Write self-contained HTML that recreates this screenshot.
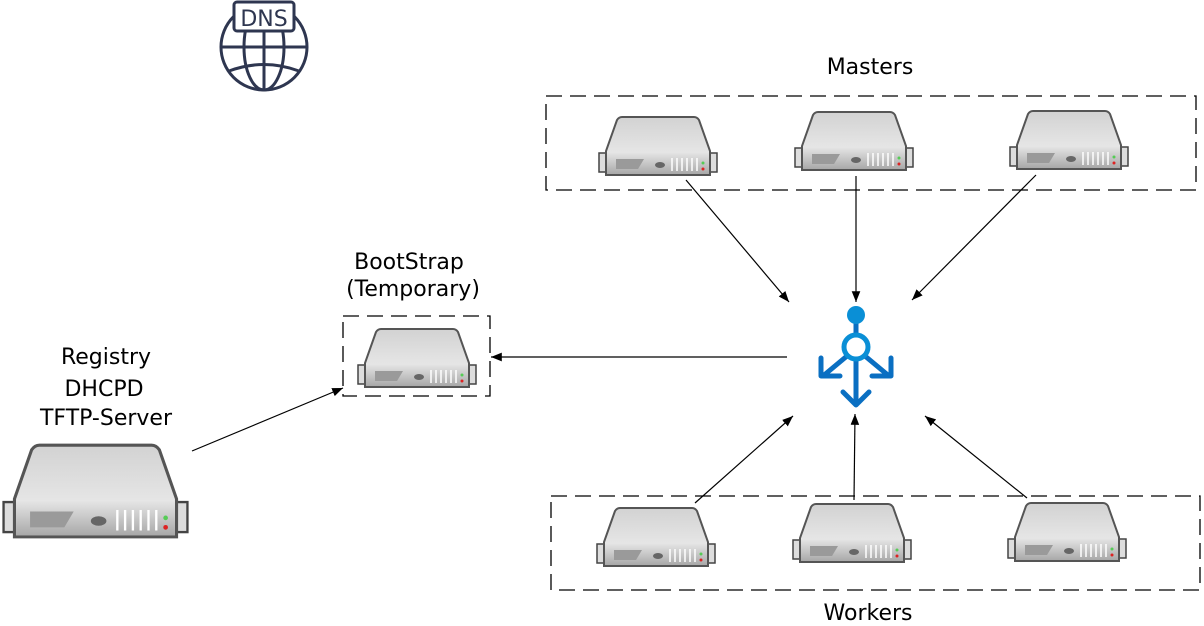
<!DOCTYPE html>
<html><head><meta charset="utf-8"><style>
html,body{margin:0;padding:0;background:#fff;width:1204px;height:626px;overflow:hidden}
</style></head><body>
<svg width="1204" height="626" viewBox="0 0 1204 626" xmlns="http://www.w3.org/2000/svg">
<defs>
<linearGradient id="tg" x1="0" y1="0" x2="0" y2="1"><stop offset="0" stop-color="#d2d2d2"/><stop offset="1" stop-color="#f2f2f2"/></linearGradient>
<linearGradient id="fg" x1="0" y1="0" x2="0" y2="1"><stop offset="0" stop-color="#e6e6e6"/><stop offset="1" stop-color="#a9a9a9"/></linearGradient>
<symbol id="srv" viewBox="0 0 120 62" preserveAspectRatio="none">
<rect x="1" y="38" width="9" height="19" fill="#ddd" stroke="#444" stroke-width="1.5"/>
<rect x="110" y="38" width="9" height="19" fill="#ddd" stroke="#444" stroke-width="1.5"/>
<path d="M24 2 H96 Q99 2 101 5 L112 36 V60 H8 V36 L19 5 Q21 2 24 2Z" fill="url(#tg)" stroke="#555" stroke-width="2"/>
<rect x="9" y="37" width="102" height="22" fill="url(#fg)"/>
<path d="M18 44 H46 L40 54 H18Z" fill="#9a9a9a"/>
<ellipse cx="62" cy="50" rx="5" ry="3" fill="#666"/>
<g stroke="#fff" stroke-width="1.5"><line x1="74" y1="43" x2="74" y2="56"/><line x1="79" y1="43" x2="79" y2="56"/><line x1="84" y1="43" x2="84" y2="56"/><line x1="89" y1="43" x2="89" y2="56"/><line x1="94" y1="43" x2="94" y2="56"/><line x1="99" y1="43" x2="99" y2="56"/></g>
<circle cx="105" cy="48" r="1.5" fill="#5c5"/><circle cx="105" cy="54" r="1.5" fill="#d22"/>
</symbol>
<marker id="ar" viewBox="0 0 10 10" refX="10" refY="5" markerWidth="9" markerHeight="9" orient="auto"><path d="M0 1 L10 5 L0 9Z" fill="#000"/></marker>
</defs>

<g fill="none" stroke="#000" stroke-dasharray="16 8" stroke-width="1.3">
<rect x="546" y="96" width="650" height="94"/>
<rect x="551" y="496" width="649" height="94"/>
<rect x="343" y="316" width="147" height="80"/>
</g>

<use href="#srv" x="598" y="115" width="120" height="62"/>
<use href="#srv" x="794" y="110" width="120" height="62"/>
<use href="#srv" x="1009" y="109" width="120" height="62"/>
<use href="#srv" x="357" y="327" width="120" height="62"/>
<use href="#srv" x="596" y="506" width="120" height="62"/>
<use href="#srv" x="792" y="502" width="120" height="62"/>
<use href="#srv" x="1007" y="501" width="120" height="62"/>
<use href="#srv" x="2" y="442" width="187" height="98"/>

<g stroke="#000" stroke-width="1.2" marker-end="url(#ar)">
<line x1="686" y1="180" x2="789" y2="302"/>
<line x1="856" y1="176" x2="856" y2="302"/>
<line x1="1036" y1="175" x2="912" y2="300"/>
<line x1="787" y1="357" x2="491" y2="357"/>
<line x1="695" y1="503" x2="793" y2="416"/>
<line x1="854" y1="500" x2="855" y2="414"/>
<line x1="1027" y1="498" x2="925" y2="416"/>
<line x1="192" y1="451" x2="343" y2="388"/>
</g>

<g fill="none" stroke="#0a6fc2" stroke-width="5" stroke-linecap="round" stroke-linejoin="round">
<line x1="856" y1="322" x2="856" y2="404"/>
<polyline points="843,392 856,405 869,392"/>
<line x1="847" y1="356" x2="823" y2="376"/>
<polyline points="821,358 821,376 840,376"/>
<line x1="865" y1="356" x2="889" y2="376"/>
<polyline points="891,358 891,376 872,376"/>
</g>
<circle cx="856" cy="347" r="12" fill="#fff" stroke="#0a8fd6" stroke-width="5"/>
<circle cx="856" cy="315" r="9" fill="#0a8fd6"/>

<g fill="none" stroke="#2e3650" stroke-width="3">
<circle cx="264" cy="47" r="43"/>
<ellipse cx="264" cy="47" rx="20" ry="43"/>
<line x1="264" y1="30" x2="264" y2="90"/>
<line x1="221" y1="47" x2="307" y2="47"/>
<path d="M229 71 Q264 58 299 71"/>
<rect x="234" y="2" width="60" height="29" rx="3" fill="#fff"/>
</g>
<text x="264" y="26" text-anchor="middle" font-family="DejaVu Sans, Liberation Sans, sans-serif" font-size="22" fill="#2e3650">DNS</text>

<g font-family="DejaVu Sans, Liberation Sans, sans-serif" font-size="22" fill="#000" text-anchor="middle">
<text x="870" y="74">Masters</text>
<text x="868" y="620">Workers</text>
<text x="409" y="269">BootStrap</text>
<text x="413" y="296">(Temporary)</text>
<text x="106" y="364">Registry</text>
<text x="104" y="396">DHCPD</text>
<text x="106" y="425">TFTP-Server</text>
</g>
</svg>
</body></html>
